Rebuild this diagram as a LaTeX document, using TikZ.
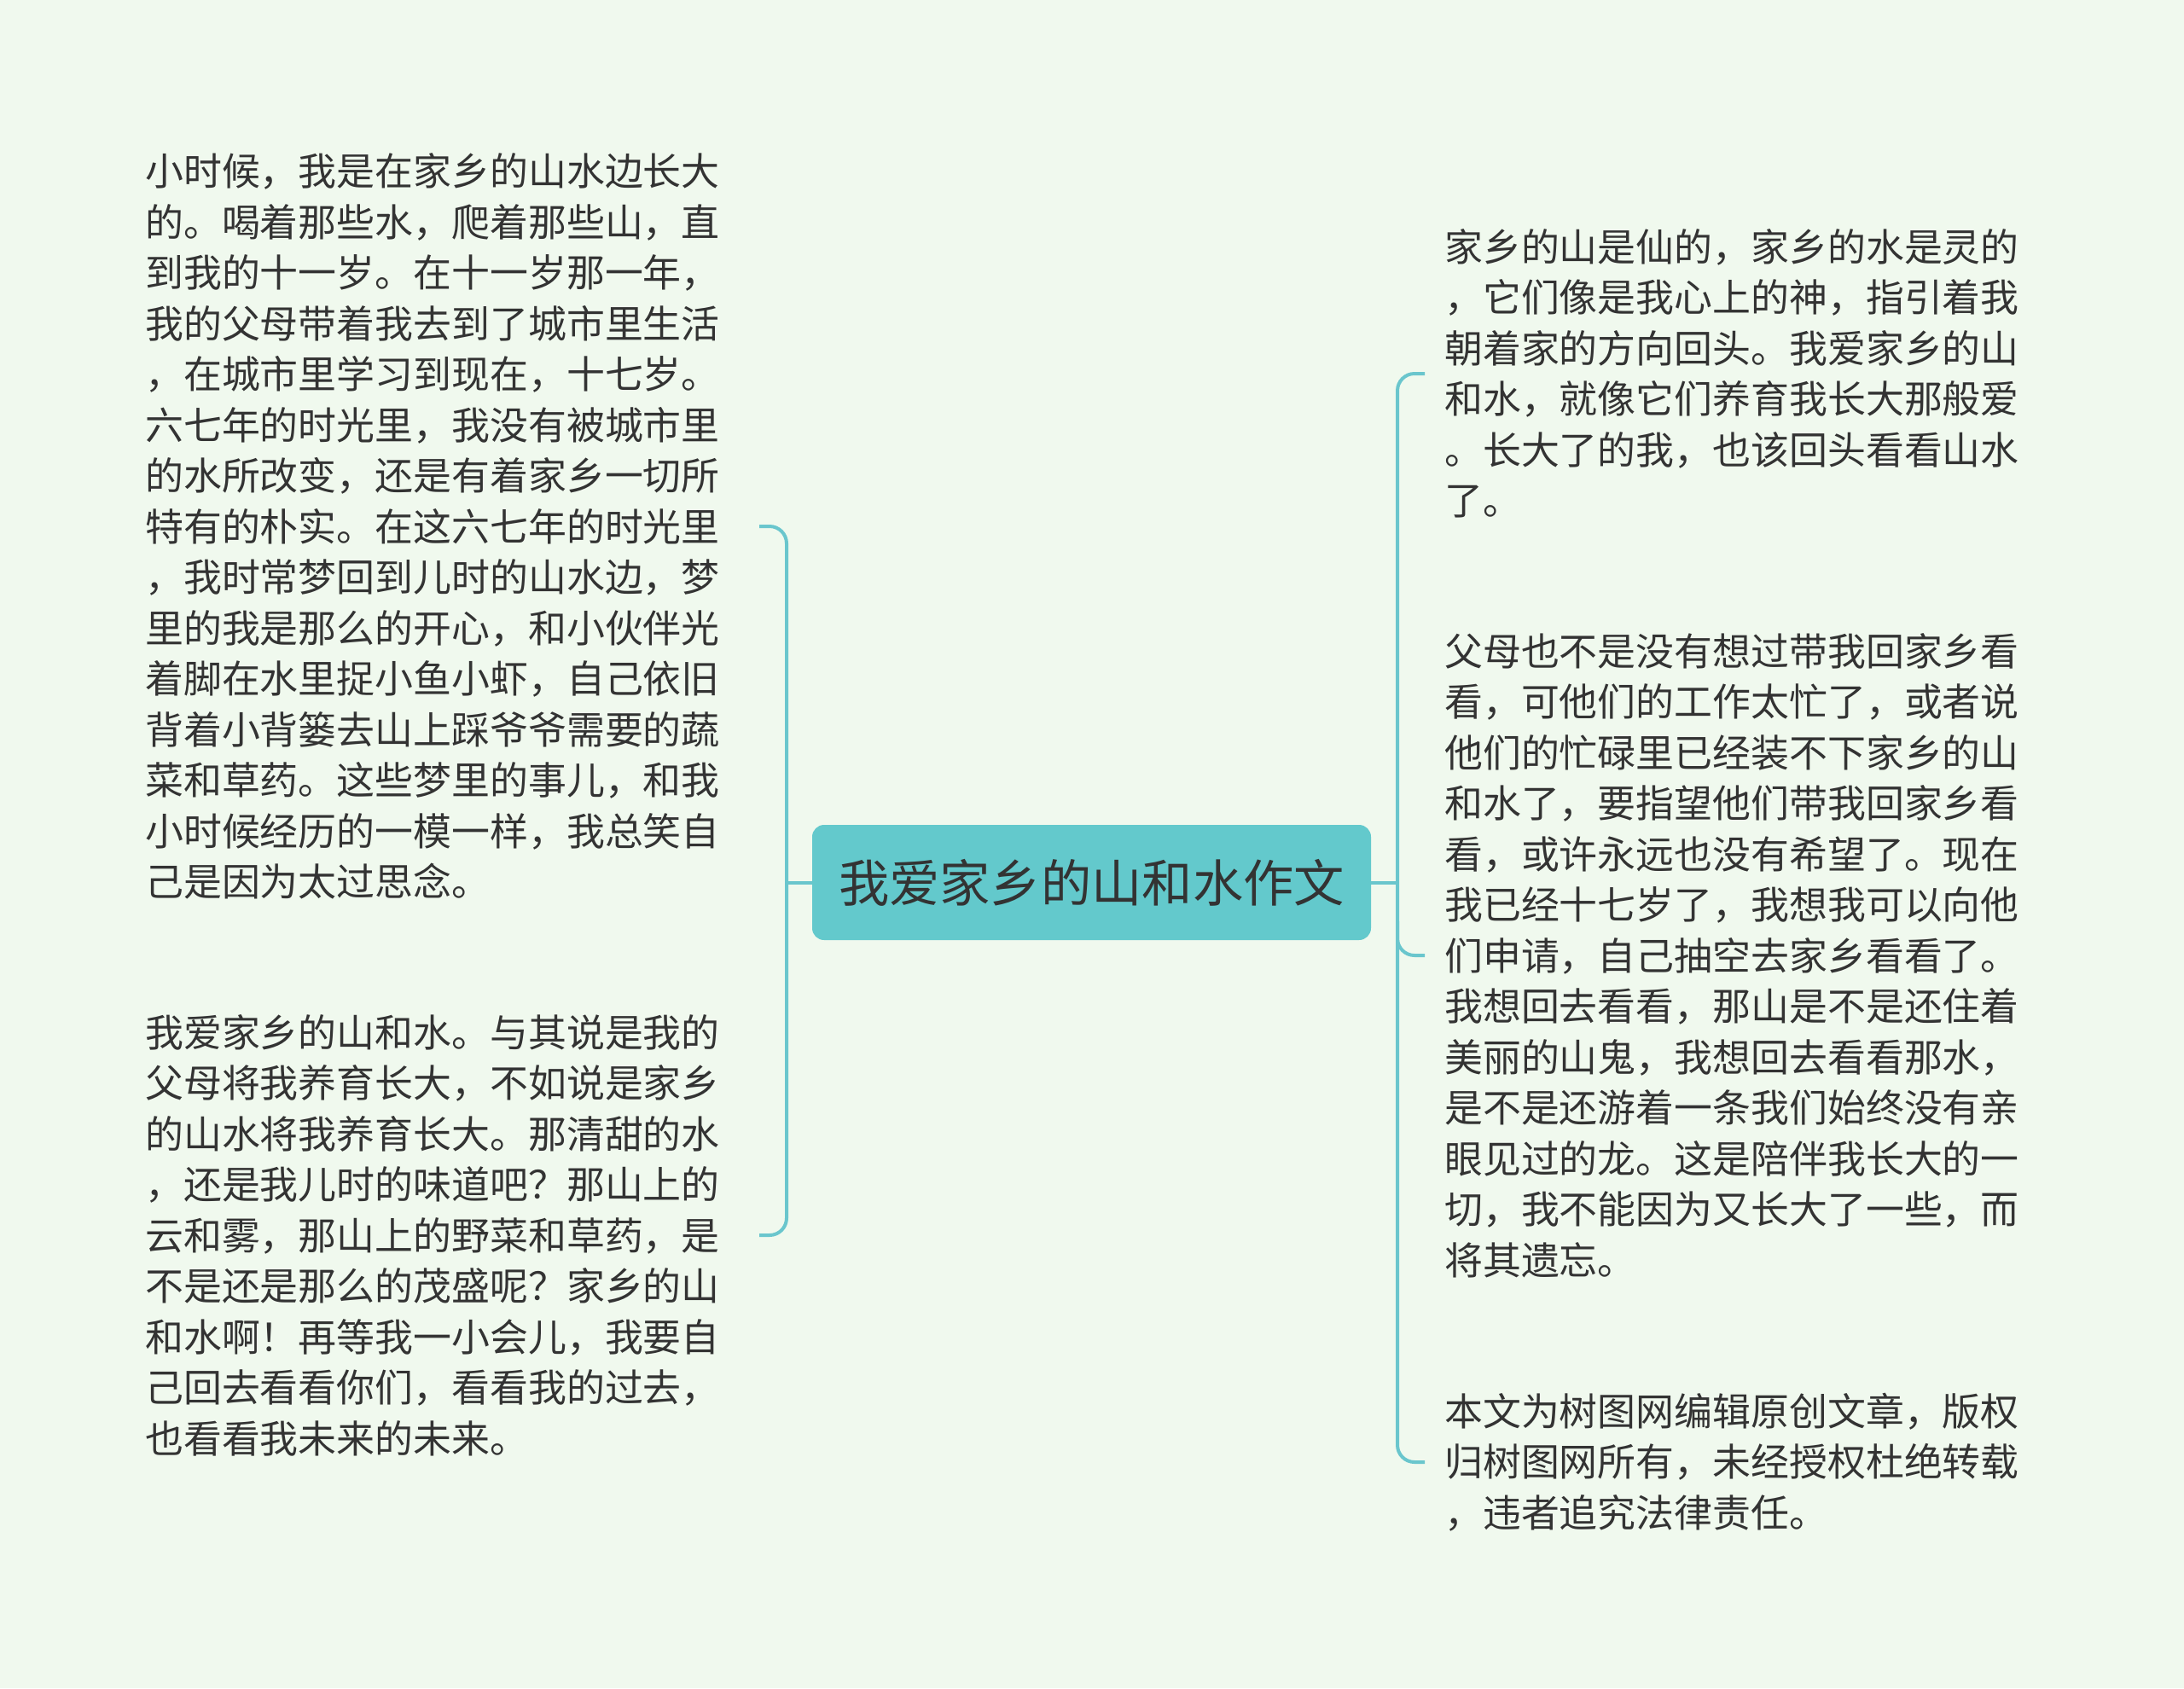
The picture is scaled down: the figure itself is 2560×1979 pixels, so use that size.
\documentclass[tikz,border=0pt]{standalone}
\usepackage{fontspec}
\setmainfont{Noto Sans CJK SC}
\definecolor{bgc}{RGB}{240,249,238}
\definecolor{nodec}{RGB}{99,201,204}
\definecolor{linec}{RGB}{106,198,205}
\definecolor{textc}{RGB}{51,51,51}
\begin{document}
\begin{tikzpicture}[x=1pt,y=-1pt,
  txt/.style={anchor=west, align=left, inner sep=0pt, text=textc, font=\fontsize{44.9}{59.5}\selectfont},
  conn/.style={draw=linec, line width=4pt, rounded corners=20pt},
  rootbox/.style={fill=nodec, rounded corners=14pt, minimum width=655pt, minimum height=135pt, inner sep=0pt, text=textc, font=\fontsize{59.3}{70}\selectfont}
  ]
\fill[bgc] (0,0) rectangle (2560,1979);
\useasboundingbox (0,0) rectangle (2560,1979);

\node[rootbox] (root) at (1279.5,1034.5) {我爱家乡的山和水作文};

\node[txt] (l1) at (170,617) {小时候，我是在家乡的山水边长大\\的。喝着那些水，爬着那些山，直\\到我的十一岁。在十一岁那一年，\\我的父母带着我去到了城市里生活\\，在城市里学习到现在，十七岁。\\六七年的时光里，我没有被城市里\\的水所改变，还是有着家乡一切所\\特有的朴实。在这六七年的时光里\\，我时常梦回到儿时的山水边，梦\\里的我是那么的开心，和小伙伴光\\着脚在水里捉小鱼小虾，自己依旧\\背着小背篓去山上踩爷爷需要的蔬\\菜和草药。这些梦里的事儿，和我\\小时候经历的一模一样，我总笑自\\己是因为太过思念。};

\node[txt] (l2) at (170,1448) {我爱家乡的山和水。与其说是我的\\父母将我养育长大，不如说是家乡\\的山水将我养育长大。那清甜的水\\，还是我儿时的味道吧？那山上的\\云和雾，那山上的野菜和草药，是\\不是还是那么的茂盛呢？家乡的山\\和水啊！再等我一小会儿，我要自\\己回去看看你们，看看我的过去，\\也看看我未来的未来。};

\node[txt] (r1) at (1693,438) {家乡的山是仙的，家乡的水是灵的\\，它们像是我心上的神，指引着我\\朝着家的方向回头。我爱家乡的山\\和水，就像它们养育我长大那般爱\\。长大了的我，也该回头看看山水\\了。};

\node[txt] (r2) at (1693,1120) {父母也不是没有想过带我回家乡看\\看，可他们的工作太忙了，或者说\\他们的忙碌里已经装不下家乡的山\\和水了，要指望他们带我回家乡看\\看，或许永远也没有希望了。现在\\我已经十七岁了，我想我可以向他\\们申请，自己抽空去家乡看看了。\\我想回去看看，那山是不是还住着\\美丽的山鬼，我想回去看看那水，\\是不是还游着一条我们始终没有亲\\眼见过的龙。这是陪伴我长大的一\\切，我不能因为又长大了一些，而\\将其遗忘。};

\node[txt] (r3) at (1693,1714) {本文为树图网编辑原创文章，版权\\归树图网所有，未经授权杜绝转载\\，违者追究法律责任。};

% tick ends
\coordinate (tl1) at (890,617);
\coordinate (tl2) at (890,1448);
\coordinate (tr1) at (1670,438);
\coordinate (tr2) at (1670,1120);
\coordinate (tr3) at (1670,1714);

% left connectors
\draw[conn] (root.west) -- (922,1034.5);
\draw[conn] (tl1) -- (922,617) -- (922,1448) -- (tl2);
% right connectors
\draw[conn] (root.east) -- (1638,1034.5);
\draw[conn] (tr1) -- (1638,438) -- (1638,1714) -- (tr3);
\draw[conn] (1638,1080) -- (1638,1120) -- (tr2);
\end{tikzpicture}
\end{document}
